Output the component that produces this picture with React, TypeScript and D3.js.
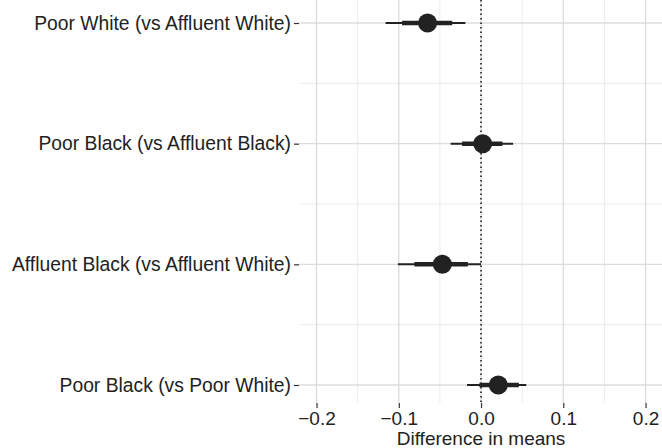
import { useEffect, useRef } from 'react';
import * as d3 from 'd3';

// contrasts, top to bottom
const labels = [
  'Poor White (vs Affluent White)',
  'Poor Black (vs Affluent Black)',
  'Affluent Black (vs Affluent White)',
  'Poor Black (vs Poor White)',
];
const estimates = [-0.065, 0.002, -0.047, 0.021];
const ci95Low = [-0.116, -0.037, -0.101, -0.017];
const ci95High = [-0.019, 0.039, 0.0, 0.055];
const ci90Low = [-0.096, -0.023, -0.081, -0.002];
const ci90High = [-0.035, 0.026, -0.016, 0.046];
const xTicks = [-0.2, -0.1, 0.0, 0.1, 0.2];
const xMinor = [-0.15, -0.05, 0.05, 0.15];

const width = 662;
const height = 448;
const margin = { top: 0, right: 0, bottom: 45, left: 299 };

const App = () => {
  const svgRef = useRef<SVGSVGElement>(null);

  useEffect(() => {
    const svg = d3.select(svgRef.current);
    svg.selectAll('*').remove();

    const innerWidth = width - margin.left - margin.right;
    const innerHeight = height - margin.top - margin.bottom;
    const font = '"Liberation Sans", Arial, sans-serif';

    const x = d3.scaleLinear().domain([-0.2213, 0.22]).range([0, innerWidth]);
    const y = d3.scalePoint<string>().domain(labels).range([23, 385]);
    const step = y.step();

    const g = svg.append('g').attr('transform', `translate(${margin.left},${margin.top})`);

    // minor grid
    g.selectAll('.vminor').data(xMinor).enter().append('line')
      .attr('x1', d => x(d)).attr('x2', d => x(d))
      .attr('y1', 0).attr('y2', innerHeight)
      .attr('stroke', '#ebebeb').attr('stroke-width', 1);
    g.selectAll('.hminor').data(labels.slice(1)).enter().append('line')
      .attr('x1', 0).attr('x2', innerWidth)
      .attr('y1', d => (y(d) as number) - step / 2).attr('y2', d => (y(d) as number) - step / 2)
      .attr('stroke', '#ebebeb').attr('stroke-width', 1);

    // major grid
    g.selectAll('.vmajor').data(xTicks).enter().append('line')
      .attr('x1', d => x(d)).attr('x2', d => x(d))
      .attr('y1', 0).attr('y2', innerHeight)
      .attr('stroke', '#dcdcdc').attr('stroke-width', 1.3);
    g.selectAll('.hmajor').data(labels).enter().append('line')
      .attr('x1', 0).attr('x2', innerWidth)
      .attr('y1', d => y(d) as number).attr('y2', d => y(d) as number)
      .attr('stroke', '#dcdcdc').attr('stroke-width', 1.3);

    // zero reference
    g.append('line')
      .attr('x1', x(0)).attr('x2', x(0))
      .attr('y1', 0).attr('y2', innerHeight)
      .attr('stroke', '#111').attr('stroke-width', 1.5)
      .attr('stroke-dasharray', '1.5,3');

    // intervals and points
    labels.forEach((lab, i) => {
      const cy = y(lab) as number;
      g.append('line')
        .attr('x1', x(ci95Low[i])).attr('x2', x(ci95High[i]))
        .attr('y1', cy).attr('y2', cy)
        .attr('stroke', '#222').attr('stroke-width', 2);
      g.append('line')
        .attr('x1', x(ci90Low[i])).attr('x2', x(ci90High[i]))
        .attr('y1', cy).attr('y2', cy)
        .attr('stroke', '#222').attr('stroke-width', 4.5);
      g.append('circle')
        .attr('cx', x(estimates[i])).attr('cy', cy).attr('r', 9.5)
        .attr('fill', '#222');
    });

    // x axis
    const xAxis = g.append('g').attr('transform', `translate(0,${innerHeight})`)
      .call(d3.axisBottom(x).tickValues(xTicks).tickSize(5).tickPadding(4)
        .tickFormat(d => d3.format('.1f')(d as number).replace('-', '\u2212')));
    xAxis.select('.domain').remove();
    xAxis.selectAll('line').attr('stroke', '#333').attr('stroke-width', 1.2);
    xAxis.selectAll('text').attr('fill', '#222').style('font-family', font).style('font-size', '19px');

    // y axis
    const yAxis = g.append('g')
      .call(d3.axisLeft(y).tickSize(5).tickPadding(3));
    yAxis.select('.domain').remove();
    yAxis.selectAll('line').attr('stroke', '#333').attr('stroke-width', 1.2);
    yAxis.selectAll('text').attr('fill', '#222').style('font-family', font).style('font-size', '19.3px');

    // axis title
    svg.append('text')
      .attr('x', margin.left + x(0)).attr('y', height - 3)
      .attr('text-anchor', 'middle')
      .attr('fill', '#222')
      .style('font-family', font).style('font-size', '19px')
      .text('Difference in means');
  }, []);

  return (
    <div style={{ position: 'absolute', left: 0, top: 0 }}>
      <svg ref={svgRef} width={width} height={height} style={{ display: 'block', background: '#fff' }}></svg>
    </div>
  );
};

export default App;
